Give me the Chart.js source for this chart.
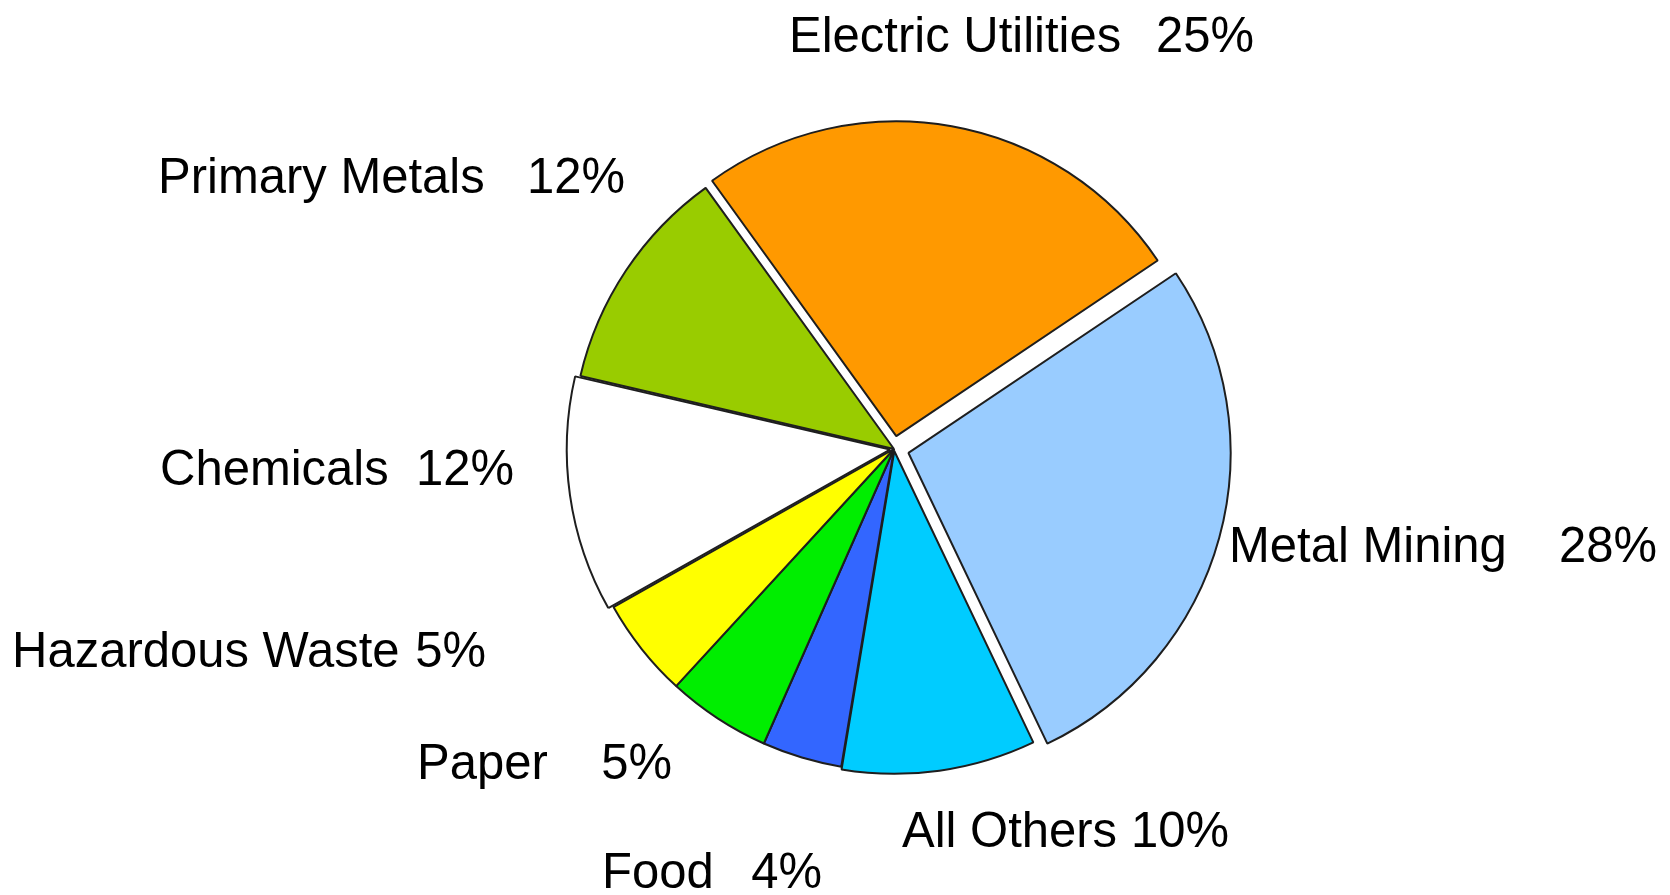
<!DOCTYPE html>
<html>
<head>
<meta charset="utf-8">
<script src="https://cdn.jsdelivr.net/npm/chart.js@4.4.1/dist/chart.umd.min.js"></script>
<style>
  html, body { margin: 0; padding: 0; background: #ffffff; }
  #wrap { width: 1670px; height: 895px; position: relative; }
</style>
</head>
<body>
<div id="wrap"><canvas id="c" width="1670" height="895"></canvas></div>
<script>
// ---- data (clockwise from the top-left edge of Electric Utilities) ----
const categories = ["Electric Utilities", "Metal Mining", "All Others", "Food", "Paper", "Hazardous Waste", "Chemicals", "Primary Metals"];
const shares = [25.5, 27.3, 9.7, 4.0, 5.2, 5.0, 11.8, 11.4];           // slice sizes
const pctLabels = ["25%", "28%", "10%", "4%", "5%", "5%", "12%", "12%"]; // printed percentages

// ---- styling / layout (kept separate from data) ----
const sliceColors = ["#FF9900", "#99CCFF", "#00CCFF", "#3366FF", "#00EE00", "#FFFF00", "#FFFFFF", "#99CC00"];
// Chart.js v4 moves an arc by offset/4 pixels
const sliceOffsets = [52, 60, 8, 0, 0, 0, 16, 0];
// per-slice radius factor (the exploded orange slice looks slightly smaller in the source)
const sliceRadiusScale = [0.978, 1, 1, 1, 1, 1, 1, 1];
// label layout: [name left x, baseline y, percent right x]
const labelLayout = [
  [789, 52, 1254],
  [1229, 562, 1657],
  [902, 847, 1229],
  [602, 888, 822],
  [417, 779, 672],
  [12, 667, 486],
  [160, 485, 514],
  [158, 193, 625]
];

const radiusPlugin = {
  id: 'sliceRadius',
  afterDatasetUpdate(chart, args) {
    args.meta.data.forEach((arc, i) => {
      arc.outerRadius = arc.outerRadius * sliceRadiusScale[i];
    });
  }
};

const labelPlugin = {
  id: 'sliceLabels',
  afterDraw(chart) {
    const ctx = chart.ctx;
    ctx.save();
    ctx.fillStyle = '#000000';
    ctx.font = '49px "Liberation Sans", Arial, sans-serif';
    ctx.textBaseline = 'alphabetic';
    categories.forEach((name, i) => {
      const [x, y, rx] = labelLayout[i];
      ctx.save();
      ctx.translate(x, y);
      ctx.scale(1, 1.03);
      ctx.textAlign = 'left';
      ctx.fillText(name, 0, 0);
      ctx.restore();
      ctx.save();
      ctx.translate(rx, y);
      ctx.scale(1, 1.03);
      ctx.textAlign = 'right';
      ctx.fillText(pctLabels[i], 0, 0);
      ctx.restore();
    });
    ctx.restore();
  }
};

new Chart(document.getElementById('c'), {
  type: 'pie',
  data: {
    labels: categories,
    datasets: [{
      data: shares,
      backgroundColor: sliceColors,
      borderColor: '#1e1e1e',
      borderWidth: 2,
      offset: sliceOffsets,
      hoverOffset: 0
    }]
  },
  options: {
    responsive: false,
    animation: false,
    rotation: -35.8,
    radius: 322,
    layout: { padding: { left: 118, top: 3, right: 0, bottom: 0 } },
    plugins: {
      legend: { display: false },
      tooltip: { enabled: false }
    },
    events: []
  },
  plugins: [radiusPlugin, labelPlugin]
});
</script>
</body>
</html>
